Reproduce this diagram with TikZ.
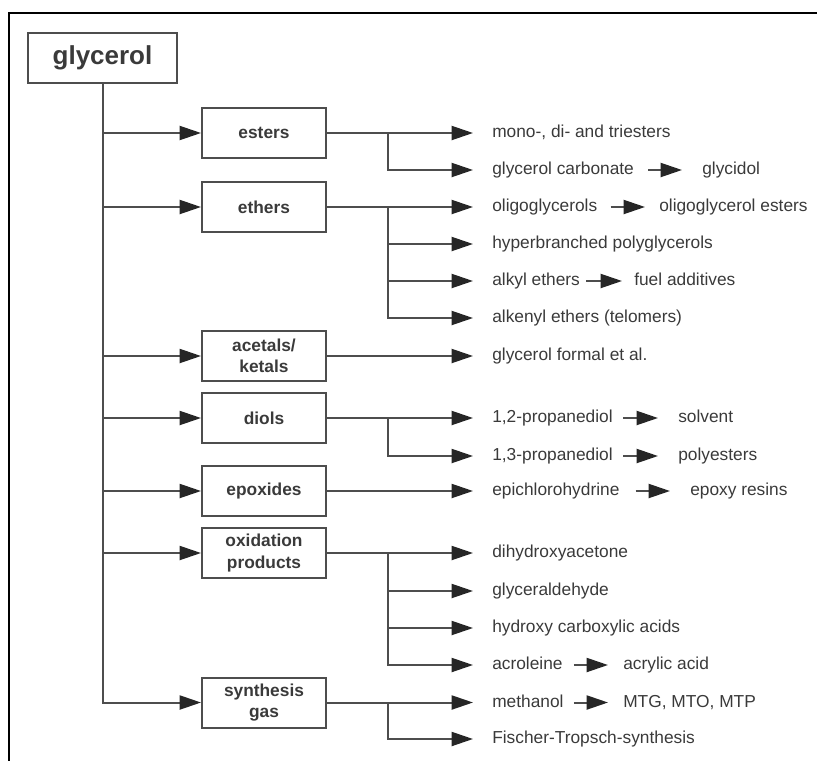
\documentclass[tikz,border=0pt]{standalone}
\usepackage{fontspec}
\setmainfont{Liberation Sans}
\usetikzlibrary{arrows.meta}
\definecolor{ln}{HTML}{4D4D4D}
\definecolor{tx}{HTML}{3A3A3A}
\tikzset{
  ln/.style={draw=ln, line width=1.5pt},
  arr/.style={ln, -{Triangle[length=16pt,width=10.5pt,color=black!85]}},
  catbox/.style={draw=ln, line width=1.5pt, minimum width=93pt, minimum height=37.5pt,
    inner sep=0pt, align=center, text=tx, font=\fontsize{13}{16}\selectfont\bfseries},
  rootbox/.style={catbox, minimum width=111.75pt, font=\fontsize{19.5}{22}\selectfont\bfseries},
  lbl/.style={anchor=west, inner sep=0pt, text=tx, text height=9.5pt, text depth=2.5pt,
    font=\fontsize{13}{15}\selectfont},
}
\begin{document}
\begin{tikzpicture}[x=0.75pt,y=-0.75pt]
\useasboundingbox (0,0) rectangle (817,760);
% outer frame
\draw[black, line width=1.5pt] (8.7,761) -- (8.7,12.5) -- (818,12.5);

% nodes
\node[rootbox] (gly) at (102.5,58) {glycerol};
\node[catbox] (est) at (264,133) {esters};
\node[catbox] (eth) at (264,207) {ethers};
\node[catbox] (ace) at (264,356) {acetals/\\ketals};
\node[catbox] (dio) at (264,418) {diols};
\node[catbox] (epo) at (264,491) {epoxides};
\node[catbox] (oxi) at (264,553) {oxidation\\products};
\node[catbox] (syn) at (264,702.5) {synthesis\\gas};

\coordinate (bx) at (388,0);

% product labels
\node[lbl] (mono) at (492,133) {mono-, di- and triesters};
\node[lbl] (gcarb) at (492,170) {glycerol carbonate};
\node[lbl] (glyc) at (702,170) {glycidol};
\node[lbl] (oligo) at (492,207) {oligoglycerols};
\node[lbl] (oest) at (659,207) {oligoglycerol esters};
\node[lbl] (hyper) at (492,244) {hyperbranched polyglycerols};
\node[lbl] (alkyl) at (492,281) {alkyl ethers};
\node[lbl] (fuel) at (634,281) {fuel additives};
\node[lbl] (alken) at (492,318) {alkenyl ethers (telomers)};
\node[lbl] (form) at (492,356) {glycerol formal et al.};
\node[lbl] (p12) at (492,418) {1,2-propanediol};
\node[lbl] (solv) at (678,418) {solvent};
\node[lbl] (p13) at (492,456) {1,3-propanediol};
\node[lbl] (poly) at (678,456) {polyesters};
\node[lbl] (epi) at (492,491) {epichlorohydrine};
\node[lbl] (eres) at (690,491) {epoxy resins};
\node[lbl] (dha) at (492,553) {dihydroxyacetone};
\node[lbl] (gald) at (492,591) {glyceraldehyde};
\node[lbl] (hca) at (492,628) {hydroxy carboxylic acids};
\node[lbl] (acro) at (492,665) {acroleine};
\node[lbl] (acry) at (623,665) {acrylic acid};
\node[lbl] (meth) at (492,702.5) {methanol};
\node[lbl] (mtg) at (623,702.5) {MTG, MTO, MTP};
\node[lbl] (ft) at (492,739) {Fischer-Tropsch-synthesis};

% trunk
\draw[arr] (gly.south) -- (gly.south |- syn.west) -- (syn.west);
\foreach \b in {est,eth,ace,dio,epo,oxi}
  \draw[arr] (gly.south |- \b.west) -- (\b.west);

% branches
\tikzset{tip/.style={arr, shorten >=14.25pt}}
\draw[tip] (est.east) -- (est.east -| mono.west);
\draw[tip] (est.east -| bx) |- (gcarb.west);
\draw[tip] (eth.east) -- (eth.east -| oligo.west);
\draw[tip] (eth.east -| bx) |- (alken.west);
\draw[tip] (bx |- hyper.west) -- (hyper.west);
\draw[tip] (bx |- alkyl.west) -- (alkyl.west);
\draw[tip] (ace.east) -- (ace.east -| form.west);
\draw[tip] (dio.east) -- (dio.east -| p12.west);
\draw[tip] (dio.east -| bx) |- (p13.west);
\draw[tip] (epo.east) -- (epo.east -| epi.west);
\draw[tip] (oxi.east) -- (oxi.east -| dha.west);
\draw[tip] (oxi.east -| bx) |- (acro.west);
\draw[tip] (bx |- gald.west) -- (gald.west);
\draw[tip] (bx |- hca.west) -- (hca.west);
\draw[tip] (syn.east) -- (syn.east -| meth.west);
\draw[tip] (syn.east -| bx) |- (ft.west);

% inline arrows
\draw[arr] ([xshift=10.5pt]gcarb.east) -- ([xshift=-15pt]glyc.west);
\draw[arr] ([xshift=9.75pt]oligo.east) -- ([xshift=-10.5pt]oest.west);
\draw[arr] ([xshift=4.5pt]alkyl.east) -- ([xshift=-9pt]fuel.west);
\draw[arr] ([xshift=7.5pt]p12.east) -- ([xshift=-15pt]solv.west);
\draw[arr] ([xshift=7.5pt]p13.east) -- ([xshift=-15pt]poly.west);
\draw[arr] ([xshift=12pt]epi.east) -- ([xshift=-15pt]eres.west);
\draw[arr] ([xshift=8.25pt]acro.east) -- ([xshift=-11.25pt]acry.west);
\draw[arr] ([xshift=7.5pt]meth.east) -- ([xshift=-11.25pt]mtg.west);
\end{tikzpicture}
\end{document}
